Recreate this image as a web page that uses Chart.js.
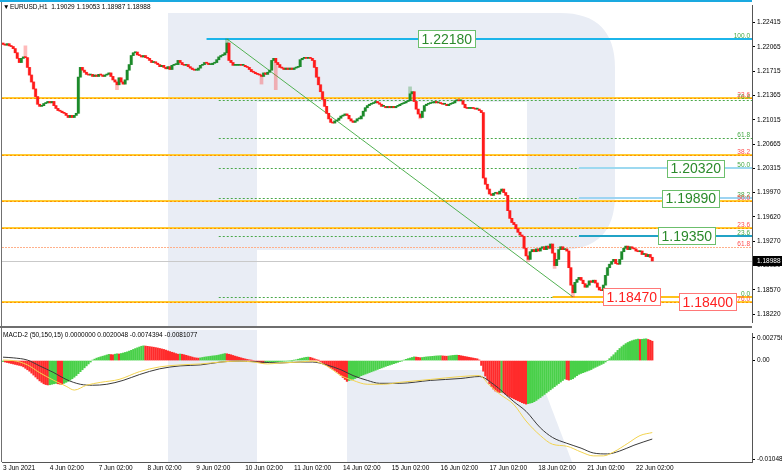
<!DOCTYPE html>
<html lang="en">
<head>
<meta charset="UTF-8">
<title>EURUSD H1</title>
<script src="https://cdn.jsdelivr.net/npm/chart.js"></script>
<style>
  body { margin: 0; background: #fff; }
  #wrap { position: relative; width: 782px; height: 475px; overflow: hidden; }
  #wm, #priceChart, #macdChart { position: absolute; left: 0; }
  #wm { top: 0; }
  #priceChart { top: 0; }
  #macdChart { top: 328px; }
</style>
</head>
<body>
<div id="wrap">
  <!-- faint broker logo behind the chart -->
  <svg id="wm" width="782" height="475">
    <g fill="#e9edf5">
      <rect x="168" y="13" width="89" height="313"/>
      <path d="M168 13 H560 Q615 13 615 68 V195 Q615 250 560 250 H257 V200 H527 V102 H168 Z"/>
      <rect x="168" y="330" width="89" height="132"/>
      <path d="M347 370 H537 L572 462 H347 Z"/>
    </g>
  </svg>
  <canvas id="priceChart" width="782" height="328"></canvas>
  <canvas id="macdChart" width="782" height="147"></canvas>
</div>

<script>
  // EURUSD H1 closes, one per bar (3 Jun - 22 Jun 2021)
  const closes = [
    1.2210, 1.2209, 1.2211, 1.2208, 1.2207, 1.2204, 1.2198, 1.2190, 1.2184, 1.2190,
    1.2192, 1.2191, 1.2177, 1.2166, 1.2156, 1.2146, 1.2135, 1.2124, 1.2121, 1.2122,
    1.2125, 1.2126, 1.2128, 1.2126, 1.2128, 1.2122, 1.2118, 1.2115, 1.2114, 1.2112,
    1.2111, 1.2108, 1.2105, 1.2108, 1.2105, 1.2108, 1.2111, 1.2163, 1.2177, 1.2173,
    1.2170, 1.2167, 1.2166, 1.2167, 1.2164, 1.2166, 1.2164, 1.2167, 1.2166, 1.2164,
    1.2166, 1.2167, 1.2169, 1.2164, 1.2159, 1.2156, 1.2152, 1.2162, 1.2156, 1.2153,
    1.2159, 1.2173, 1.2181, 1.2194, 1.2198, 1.2199, 1.2195, 1.2194, 1.2192, 1.2194,
    1.2191, 1.2190, 1.2187, 1.2184, 1.2185, 1.2183, 1.2181, 1.2178, 1.2180, 1.2177,
    1.2175, 1.2178, 1.2174, 1.2180, 1.2181, 1.2181, 1.2187, 1.2184, 1.2181, 1.2180,
    1.2181, 1.2178, 1.2176, 1.2174, 1.2173, 1.2173, 1.2176, 1.2180, 1.2181, 1.2184,
    1.2183, 1.2181, 1.2181, 1.2183, 1.2184, 1.2188, 1.2192, 1.2194, 1.2195, 1.2198,
    1.2212, 1.2187, 1.2184, 1.2180, 1.2180, 1.2180, 1.2181, 1.2180, 1.2180, 1.2178,
    1.2177, 1.2174, 1.2171, 1.2170, 1.2168, 1.2167, 1.2166, 1.2164, 1.2169, 1.2167,
    1.2170, 1.2173, 1.2187, 1.2190, 1.2184, 1.2181, 1.2177, 1.2176, 1.2174, 1.2176,
    1.2174, 1.2176, 1.2174, 1.2176, 1.2177, 1.2178, 1.2188, 1.2190, 1.2191, 1.2190,
    1.2191, 1.2190, 1.2187, 1.2177, 1.2163, 1.2152, 1.2142, 1.2131, 1.2121, 1.2111,
    1.2103, 1.2098, 1.2097, 1.2100, 1.2101, 1.2104, 1.2107, 1.2108, 1.2110, 1.2108,
    1.2103, 1.2100, 1.2098, 1.2100, 1.2103, 1.2103, 1.2107, 1.2114, 1.2119, 1.2122,
    1.2124, 1.2125, 1.2126, 1.2128, 1.2126, 1.2124, 1.2121, 1.2121, 1.2119, 1.2121,
    1.2119, 1.2121, 1.2119, 1.2121, 1.2122, 1.2124, 1.2125, 1.2126, 1.2128, 1.2129,
    1.2139, 1.2142, 1.2128, 1.2117, 1.2110, 1.2105, 1.2114, 1.2122, 1.2124, 1.2125,
    1.2126, 1.2126, 1.2128, 1.2126, 1.2126, 1.2125, 1.2124, 1.2124, 1.2122, 1.2124,
    1.2125, 1.2126, 1.2129, 1.2130, 1.2129, 1.2129, 1.2124, 1.2119, 1.2118, 1.2118,
    1.2119, 1.2118, 1.2117, 1.2117, 1.2115, 1.2112, 1.2018, 1.2009, 1.2002, 1.1995,
    1.1993, 1.1996, 1.1997, 1.1995, 1.1999, 1.2002, 1.1997, 1.1993, 1.1971, 1.1960,
    1.1954, 1.1951, 1.1945, 1.1940, 1.1936, 1.1934, 1.1917, 1.1906, 1.1901, 1.1912,
    1.1915, 1.1912, 1.1916, 1.1913, 1.1917, 1.1919, 1.1915, 1.1920, 1.1917, 1.1923,
    1.1910, 1.1892, 1.1901, 1.1915, 1.1919, 1.1915, 1.1916, 1.1913, 1.1889, 1.1864,
    1.1853, 1.1868, 1.1872, 1.1875, 1.1871, 1.1866, 1.1861, 1.1864, 1.1870, 1.1868,
    1.1871, 1.1867, 1.1861, 1.1857, 1.1856, 1.1864, 1.1878, 1.1889, 1.1894, 1.1898,
    1.1901, 1.1895, 1.1894, 1.1901, 1.1912, 1.1917, 1.1920, 1.1915, 1.1919, 1.1917,
    1.1916, 1.1913, 1.1912, 1.1913, 1.1908, 1.1909, 1.1905, 1.1908, 1.1904, 1.18988
  ];
  const firstOpen = 1.2212;
  // visible wicks: [bar, price]
  const highSpikes = [[11, 1.2208], [110, 1.2218], [200, 1.2149]];
  const lowSpikes = [[56, 1.2145], [127, 1.2153], [134, 1.2145], [205, 1.2103], [258, 1.1898], [271, 1.1888], [280, 1.1847]];

  // MACD-2 (50,150,15) histogram, in units of 0.0001
  const macdHistE4 = [
    -1, -1.5, -2, -2.5, -3, -3.5, -4, -4.5, -5, -5.5,
    -6.5, -8, -9.5, -11, -13, -15, -17, -19, -21, -22.5,
    -24, -24.8, -25.2, -25, -24.5, -24, -23.6, -24, -24.4, -24.6,
    -23.5, -22.5, -21.5, -20.2, -18.8, -17.2, -15.5, -13.5, -11.5, -9.5,
    -7.5, -5.5, -3.5, -1.5, 0.5, 1.5, 2.5, 3.2, 3.9, 4.5,
    5.1, 5.8, 6.4, 6.2, 6.0, 6.6, 7.0, 6.8, 7.3, 7.8,
    8.4, 9.0, 9.8, 10.6, 11.5, 12.4, 13.2, 14.0, 14.8, 15.2,
    15.0, 14.7, 14.4, 14.1, 13.8, 13.4, 13.0, 12.5, 12.0, 11.5,
    10.8, 10.0, 9.3, 8.6, 8.0, 7.2, 6.6, 6.8, 6.5, 6.0,
    5.4, 4.8, 4.2, 3.6, 3.0, 2.7, 2.5, 2.8, 3.2, 3.6,
    3.9, 4.2, 4.5, 4.8, 5.0, 5.3, 5.7, 6.2, 6.7, 7.2,
    7.0, 6.5, 6.0, 5.3, 4.6, 4.0, 3.4, 2.8, 2.2, 1.7,
    1.2, 0.8, 0.3, -0.3, -0.8, -1.3, -1.9, -2.4, -2.6, -2.3,
    -2.0, -1.8, -1.6, -1.5, -1.3, -1.2, -1.0, -0.9, -0.7, -0.6,
    -0.4, -0.3, -0.1, 0.3, 0.8, 1.4, 2.0, 2.5, 3.0, 3.4,
    3.6, 3.3, 2.6, 1.8, 1.0, 0.2, -1.0, -2.2, -3.6, -5.0,
    -6.4, -7.8, -9.0, -10.3, -11.8, -13.5, -15.5, -17.5, -19.5, -21.5,
    -20.6, -20.0, -19.3, -18.5, -17.6, -16.6, -15.6, -14.8, -14.0, -13.2,
    -12.4, -11.6, -10.8, -10.0, -9.2, -8.4, -7.6, -6.8, -6.0, -5.3,
    -4.6, -3.9, -3.2, -2.5, -1.8, -1.0, -0.3, 0.5, 1.3, 2.0,
    2.6, 3.2, 3.8, 3.6, 3.3, 3.0, 3.2, 3.5, 3.8, 4.0,
    4.2, 4.4, 4.6, 4.8, 4.9, 5.0, 4.8, 4.6, 4.5, 4.7,
    5.0, 5.3, 5.5, 5.6, 5.4, 5.0, 4.6, 4.2, 3.8, 3.4,
    3.0, 2.6, 2.2, 1.8, 0.6, -5, -11, -16, -20, -24,
    -27, -29.5, -31.5, -32.5, -33.0, -32.8, -33.5, -35, -36.5, -37.5,
    -38.5, -39.5, -40.5, -41.5, -42.5, -43.5, -44.3, -45, -44.5, -44.0,
    -43.5, -42.5, -41.2, -39.7, -38.2, -36.6, -35.0, -33.4, -31.8, -30.2,
    -28.6, -27.0, -25.4, -23.8, -22.2, -20.6, -19.0, -19.6, -20.2, -19.6,
    -18.8, -17.2, -15.6, -14.2, -13.3, -12.5, -11.7, -10.9, -10.1, -9.3,
    -8.0, -7.0, -6.0, -5.0, -4.0, -3.0, -1.5, 0.0, 2.0, 4.0,
    6.0, 8.2, 10.5, 12.5, 14.3, 16.0, 17.5, 18.7, 19.7, 20.5,
    21.2, 21.7, 22.2, 21.8, 22.0, 22.3, 22.5, 21.8, 21.0, 20.0
  ];
  // MACD main (yellow) and signal (black): [bar, value in 0.0001]
  const macdMainE4 = [
    [0, 0.5], [5, 0], [12, -4.5], [18, -12.5], [25, -20.5], [31, -26.5], [35, -30.5], [41, -25.5],
    [48, -22.5], [57, -19.5], [67, -11.5], [77, -6.5], [87, -4.5], [97, -3.5], [107, -1.5], [116, -0.5],
    [123, -1.5], [130, -3.5], [136, -2.5], [146, -1.5], [152, -0.5], [159, -5.5], [166, -15.5], [172, -20.5],
    [179, -24.5], [187, -24.5], [195, -22.5], [210, -19.5], [225, -16.5], [234, -15.5], [239, -25.5], [244, -34.5],
    [251, -45.5], [257, -62.5], [264, -77.5], [270, -86.5], [277, -88.5], [284, -94.5], [290, -98.5], [295, -98.5],
    [300, -94.5], [307, -85.5], [313, -77.5], [319, -74.4]
  ];
  const macdSignalE4 = [
    [0, 3.5], [5, 2.8], [12, 0.5], [18, -5.5], [25, -12.5], [31, -19.5], [38, -24.5], [44, -25.5],
    [51, -24.5], [59, -20.5], [67, -14.5], [77, -8.5], [87, -5.5], [97, -4.5], [107, -1.5], [116, -0.5],
    [126, -1.5], [136, -2.5], [146, -1.5], [152, -1.5], [159, -4.5], [166, -9.5], [172, -15.5], [179, -20.5],
    [185, -23.5], [195, -23.5], [210, -20.5], [225, -18.5], [234, -16.5], [241, -24.5], [251, -42.5], [257, -52.5],
    [264, -69.5], [270, -79.5], [277, -85.5], [284, -90.5], [290, -95.5], [297, -96.5], [303, -93.5], [310, -87.5],
    [319, -81.1]
  ];
  const macdValues = ['0.0000000', '0.0020048', '-0.0074394', '-0.0081077'];

  // axes
  const priceTicks = [1.22415, 1.22065, 1.21715, 1.21365, 1.21015, 1.20665, 1.20315, 1.19970, 1.19620, 1.19270, 1.18920, 1.18570, 1.18220];
  const priceMin = 1.18108, priceMax = 1.22654;
  const macdMin = -0.010484, macdMax = 0.0027563;
  const macdAxisLabels = ['0.0027563', '0.00', '-0.010484'];
  const dayTickBars = [0, 23, 47, 71, 95, 119, 143, 167, 191, 215, 239, 263, 287, 311];
  const dayTickLabels = ['3 Jun 2021', '4 Jun 02:00', '7 Jun 02:00', '8 Jun 02:00', '9 Jun 02:00', '10 Jun 02:00', '11 Jun 02:00',
    '14 Jun 02:00', '15 Jun 02:00', '16 Jun 02:00', '17 Jun 02:00', '18 Jun 02:00', '21 Jun 02:00', '22 Jun 02:00'];
  const barMin = -0.5, barMax = 368;

  // drawing objects
  const greenFibLevels = [1.2218, 1.2130, 1.2076, 1.2032, 1.1989, 1.1935, 1.1847];
  const greenFibTexts = ['100.0', '76.4', '61.8', '50.0', '38.2', '23.6', '0.0'];
  const greenFibStartBar = 106;
  const redFibLevels = [1.2133, 1.2051, 1.1985, 1.19455, 1.1919, 1.1840];
  const redFibTexts = ['23.6', '38.2', '50.0', '23.6', '61.8', '76.0'];
  const cyanLevels = [1.2218, 1.2032, 1.1989, 1.1935];
  const cyanStartBars = [100, 283, 283, 283];
  const lowLevel = 1.1847, lowLevelStartBar = 270;
  const trendPoints = [{ x: 110, y: 1.2218 }, { x: 280, y: 1.1847 }];
  const boxTexts = ['1.22180', '1.20320', '1.19890', '1.19350', '1.18470', '1.18400'];
  const boxValues = [1.2218, 1.2032, 1.1989, 1.1935, 1.1847, 1.1840];
  const boxBars = [204, 326, 324, 322, 295, 332];
  const boxUp = [true, true, true, true, false, false];
  const lastPrice = 1.18988;
  const headerText = 'EURUSD,H1  1.19029 1.19053 1.18987 1.18988';

  const UP = '#1c8a2a', DOWN = '#ff1a1a';
  const HIST_UP = '#49d049', HIST_DOWN = '#ff2b2b';
  const FONT = "'Liberation Sans', Arial, sans-serif";
  Chart.defaults.font.family = FONT;
  Chart.defaults.color = '#000';

  const opens = closes.map((c, i) => i === 0 ? firstOpen : closes[i - 1]);
  const highs = closes.map((c, i) => Math.max(c, opens[i]));
  const lows = closes.map((c, i) => Math.min(c, opens[i]));
  highSpikes.forEach(([i, v]) => { highs[i] = v; });
  lowSpikes.forEach(([i, v]) => { lows[i] = v; });
  const isUp = closes.map((c, i) => c >= opens[i]);

  function hline(ctx, x0, x1, y, color, width, dash) {
    ctx.beginPath();
    ctx.setLineDash(dash || []);
    ctx.strokeStyle = color;
    ctx.lineWidth = width;
    const yy = width % 2 ? Math.round(y) + 0.5 : Math.round(y);
    ctx.moveTo(x0, yy);
    ctx.lineTo(x1, yy);
    ctx.stroke();
    ctx.setLineDash([]);
  }

  const priceDecor = {
    id: 'priceDecor',
    beforeDatasetsDraw(chart) {
      const { ctx, chartArea: a, scales: { x, y } } = chart;
      ctx.save();
      hline(ctx, a.left, a.right, y.getPixelForValue(lastPrice), '#c9c9c9', 1);
      greenFibLevels.forEach(v => hline(ctx, x.getPixelForValue(greenFibStartBar), a.right, y.getPixelForValue(v), '#4aa84a', 1, [2, 2]));
      redFibLevels.forEach((v, k) => {
        const py = y.getPixelForValue(v);
        if (redFibTexts[k] === '61.8') {
          hline(ctx, a.left, a.right, py, '#ffb08a', 1, [2, 1]);
        } else {
          hline(ctx, a.left, a.right, py, '#ffcc33', 2);
          hline(ctx, a.left, a.right, py, '#ff9400', 1, [2, 2]);
        }
      });
      const cyanColors = ['#1cb5ea', '#9dd9f0', '#9dd4f2', '#21a3c6'];
      cyanLevels.forEach((v, k) => hline(ctx, x.getPixelForValue(cyanStartBars[k]), a.right, y.getPixelForValue(v), cyanColors[k], 2));
      hline(ctx, x.getPixelForValue(lowLevelStartBar), a.right, y.getPixelForValue(lowLevel), '#ffc21a', 2);
      ctx.restore();
    },
    afterDatasetsDraw(chart) {
      const { ctx, chartArea: a, scales: { x, y } } = chart;
      ctx.save();
      // fib level captions on the right edge
      ctx.font = '6.5px ' + FONT;
      ctx.textAlign = 'right';
      ctx.textBaseline = 'alphabetic';
      greenFibLevels.forEach((v, k) => {
        ctx.fillStyle = '#43a843';
        ctx.fillText(greenFibTexts[k], a.right - 2, y.getPixelForValue(v) - 1);
      });
      redFibLevels.forEach((v, k) => {
        ctx.fillStyle = '#ff4d4d';
        ctx.fillText(redFibTexts[k], a.right - 2, y.getPixelForValue(v) - 1);
      });
      // price boxes
      ctx.font = '14px ' + FONT;
      ctx.textAlign = 'left';
      ctx.textBaseline = 'middle';
      boxTexts.forEach((t, k) => {
        const xl = Math.round(x.getPixelForValue(boxBars[k])) + 0.5;
        const yc = y.getPixelForValue(boxValues[k]);
        const w = Math.round(ctx.measureText(t).width) + 6, h = 17;
        const yt = Math.round(yc - h / 2) + 0.5;
        ctx.fillStyle = '#fff';
        ctx.fillRect(xl, yt, w, h);
        ctx.lineWidth = 1;
        ctx.strokeStyle = boxUp[k] ? '#6cbf6c' : '#ff7878';
        ctx.strokeRect(xl, yt, w, h);
        ctx.fillStyle = boxUp[k] ? '#2b8a2b' : '#ff2020';
        ctx.fillText(t, xl + 3, yc + 1);
      });
      ctx.restore();
    },
    afterDraw(chart) {
      const { ctx, chartArea: a, scales: { y } } = chart;
      ctx.save();
      hline(ctx, 0, a.right, 1, '#1aa9e0', 2);
      hline(ctx, 0, a.right, 327, '#6e6e6e', 2);
      ctx.beginPath();
      ctx.strokeStyle = '#707070';
      ctx.lineWidth = 1;
      ctx.moveTo(1.5, 2);
      ctx.lineTo(1.5, 326);
      ctx.stroke();
      ctx.font = '6.5px ' + FONT;
      ctx.fillStyle = '#000';
      ctx.textBaseline = 'middle';
      ctx.fillText('\u25BC', 3, 7);
      ctx.fillText(headerText, 10, 7);
      // current price tag
      const py = Math.round(y.getPixelForValue(lastPrice));
      ctx.fillStyle = '#000';
      ctx.fillRect(a.right + 1, py - 5, 782 - a.right, 10);
      ctx.fillStyle = '#fff';
      ctx.fillText(lastPrice.toFixed(5), a.right + 5, py + 0.5);
      ctx.restore();
    }
  };

  new Chart(document.getElementById('priceChart'), {
    type: 'bar',
    data: {
      datasets: [
        {
          type: 'line', data: trendPoints, borderColor: '#52b152', borderWidth: 1,
          pointRadius: 0, order: 3
        },
        {
          data: closes.map((c, i) => ({ x: i, y: [lows[i], highs[i]] })),
          backgroundColor: isUp.map(u => u ? 'rgba(28,138,42,0.3)' : 'rgba(255,26,26,0.3)'),
          barThickness: 3, grouped: false, order: 2
        },
        {
          data: closes.map((c, i) => ({ x: i, y: [Math.min(opens[i], c), Math.max(opens[i], c)] })),
          backgroundColor: isUp.map(u => u ? UP : DOWN),
          barThickness: 2, minBarLength: 1, grouped: false, order: 1
        }
      ]
    },
    options: {
      responsive: false, animation: false, devicePixelRatio: 1,
      layout: { padding: { left: 2, top: 2, right: 0, bottom: 2 } },
      plugins: { legend: { display: false }, tooltip: { enabled: false } },
      scales: {
        x: { type: 'linear', min: barMin, max: barMax, offset: false, display: false },
        y: {
          position: 'right', min: priceMin, max: priceMax,
          afterBuildTicks: s => { s.ticks = priceTicks.map(v => ({ value: v })); },
          afterFit: s => { s.width = 30; },
          grid: { drawOnChartArea: false, drawTicks: true, tickLength: 3, color: '#000' },
          border: { display: true, color: '#555' },
          ticks: { font: { size: 6.5 }, padding: 2, color: '#000', callback: v => v.toFixed(5) }
        }
      }
    },
    plugins: [priceDecor]
  });

  const macdDecor = {
    id: 'macdDecor',
    afterDraw(chart) {
      const { ctx, chartArea: a } = chart;
      ctx.save();
      ctx.beginPath();
      ctx.strokeStyle = '#707070';
      ctx.lineWidth = 1;
      ctx.moveTo(1.5, 0);
      ctx.lineTo(1.5, a.bottom);
      ctx.stroke();
      ctx.font = '6.5px ' + FONT;
      ctx.fillStyle = '#000';
      ctx.textBaseline = 'middle';
      ctx.fillText('MACD-2 (50,150,15) ' + macdValues.join(' '), 3, 7);
      ctx.restore();
    }
  };

  const macdTickValues = [macdMax - 0.0004, 0, macdMin + 0.0003];

  new Chart(document.getElementById('macdChart'), {
    type: 'bar',
    data: {
      datasets: [
        {
          type: 'line', data: macdSignalE4.map(([i, v]) => ({ x: i, y: v / 1e4 })),
          borderColor: '#3a3a3a', borderWidth: 1, pointRadius: 0, cubicInterpolationMode: 'monotone', order: 1
        },
        {
          type: 'line', data: macdMainE4.map(([i, v]) => ({ x: i, y: v / 1e4 })),
          borderColor: '#f2d34f', borderWidth: 1, pointRadius: 0, cubicInterpolationMode: 'monotone', order: 0
        },
        {
          data: macdHistE4.map((v, i) => ({ x: i, y: v / 1e4 })),
          backgroundColor: macdHistE4.map((v, i) => (i === 0 || v > macdHistE4[i - 1]) ? HIST_UP : HIST_DOWN),
          barThickness: 1.6, grouped: false, order: 2
        }
      ]
    },
    options: {
      responsive: false, animation: false, devicePixelRatio: 1,
      layout: { padding: { left: 2, top: 2, right: 0, bottom: 0 } },
      plugins: { legend: { display: false }, tooltip: { enabled: false } },
      scales: {
        x: {
          type: 'linear', min: barMin, max: barMax, offset: false,
          afterBuildTicks: s => { s.ticks = dayTickBars.map(v => ({ value: v })); },
          afterFit: s => { s.height = 13; },
          grid: { display: false, drawTicks: false },
          border: { display: true, color: '#555' },
          ticks: {
            autoSkip: false, maxRotation: 0, align: 'start', padding: 2,
            font: { size: 6.5 }, color: '#000',
            callback: v => dayTickLabels[dayTickBars.indexOf(v)]
          }
        },
        y: {
          position: 'right', min: macdMin, max: macdMax,
          afterBuildTicks: s => { s.ticks = macdTickValues.map(v => ({ value: v })); },
          afterFit: s => { s.width = 30; },
          grid: { drawOnChartArea: false, drawTicks: true, tickLength: 3, color: '#000' },
          border: { display: true, color: '#555' },
          ticks: { font: { size: 6.5 }, padding: 2, color: '#000', callback: (v, idx) => macdAxisLabels[idx] }
        }
      }
    },
    plugins: [macdDecor]
  });
</script>
</body>
</html>
